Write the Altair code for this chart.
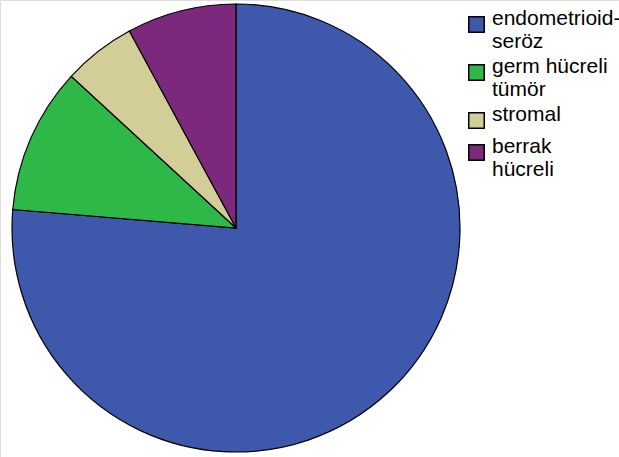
import altair as alt
import pandas as pd

categories = ["endometrioid-\nseröz", "germ hücreli\ntümör", "stromal", "berrak\nhücreli"]
counts = [29, 4, 2, 3]
colors = ["#3E58AC", "#2EB848", "#D3CE97", "#7C287D"]

df = pd.DataFrame({"tip": categories, "n": counts, "ord": list(range(len(categories)))})

chart = alt.Chart(df).mark_arc(
    radius=224, stroke="black", strokeWidth=1.2
).encode(
    x=alt.value(236),
    y=alt.value(228),
    theta=alt.Theta("n:Q", stack=True),
    order=alt.Order("ord:Q"),
    color=alt.Color(
        "tip:N",
        sort=categories,
        scale=alt.Scale(domain=categories, range=colors),
        legend=alt.Legend(
            title=None,
            orient="none",
            legendX=466,
            legendY=14,
            symbolType="square",
            symbolSize=240,
            symbolStrokeColor="black",
            symbolStrokeWidth=1.5,
            labelFont="Liberation Sans",
            labelFontSize=21,
            labelBaseline="alphabetic",
            labelColor="black",
            labelOffset=5,
            labelLimit=200,
            rowPadding=3,
            labelExpr="split(datum.label, '\\n')",
        ),
    ),
).properties(
    width=619, height=457, padding=0,
    autosize=alt.AutoSizeParams(type="none"),
).configure_view(stroke=None).configure(background="white")

chart.save("out.html", embed_options={"renderer": "svg", "actions": False})
